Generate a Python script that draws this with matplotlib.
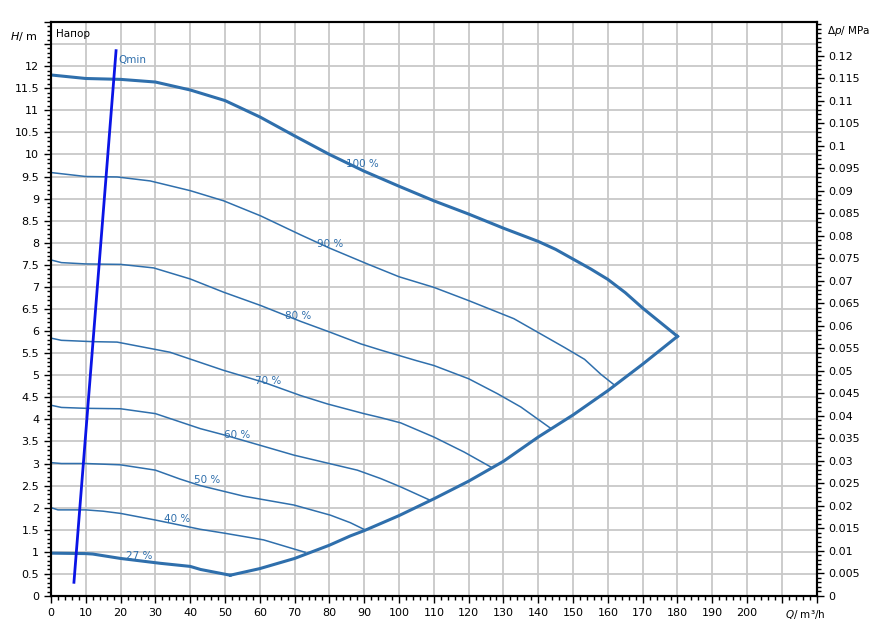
"""Pump curve chart: head vs flow at several speeds."""

import matplotlib
matplotlib.use("Agg")
import matplotlib.pyplot as plt
from matplotlib.ticker import MultipleLocator, FixedLocator, FuncFormatter

# speed curves (Q in m3/h, H in m)
q100 = [0, 10, 20, 30, 40, 50, 60, 70, 80, 90, 100, 110, 120, 130, 140, 145, 150, 155, 160, 165, 170, 175, 180]
h100 = [11.8, 11.72, 11.7, 11.64, 11.46, 11.22, 10.85, 10.42, 10.0, 9.62, 9.28, 8.95, 8.65, 8.33, 8.03, 7.85, 7.63, 7.41, 7.17, 6.87, 6.52, 6.2, 5.88]

q90 = [0, 10, 19, 28.5, 40, 49.6, 60.2, 71.7, 80, 90.9, 100, 110, 120, 133, 147.5, 153.3, 158, 162]
h90 = [9.59, 9.5, 9.49, 9.4, 9.18, 8.95, 8.61, 8.18, 7.88, 7.52, 7.23, 6.99, 6.69, 6.28, 5.63, 5.36, 5.02, 4.77]

q80 = [0, 3, 10, 20, 29.5, 40, 49.6, 60.2, 71.7, 80, 89, 94.7, 105, 110, 120, 128.3, 135, 143.7]
h80 = [7.61, 7.55, 7.52, 7.51, 7.43, 7.18, 6.88, 6.58, 6.22, 5.98, 5.71, 5.57, 5.33, 5.22, 4.92, 4.58, 4.28, 3.79]

q70 = [0, 3, 12, 19, 34.2, 49.6, 61.1, 71.7, 79.4, 89.9, 94.7, 100.5, 110, 118.7, 126.4]
h70 = [5.84, 5.79, 5.76, 5.75, 5.52, 5.11, 4.84, 4.54, 4.35, 4.13, 4.04, 3.92, 3.6, 3.26, 2.92]

q60 = [0, 3, 10, 20, 30, 42.9, 50.1, 60.2, 69.8, 79.4, 88, 94.7, 100.5, 108.6]
h60 = [4.32, 4.27, 4.25, 4.24, 4.13, 3.79, 3.64, 3.41, 3.19, 3.01, 2.85, 2.66, 2.47, 2.18]

q50 = [0, 3, 10, 20, 30, 37, 42.9, 55.4, 69.8, 80.3, 86, 89.9]
h50 = [3.02, 3.0, 3.0, 2.97, 2.85, 2.65, 2.5, 2.26, 2.06, 1.83, 1.66, 1.51]

q40 = [0, 2, 10, 15, 20, 30, 42.9, 50, 61.1, 70, 73]
h40 = [2.0, 1.95, 1.95, 1.92, 1.87, 1.72, 1.51, 1.42, 1.27, 1.06, 0.99]

q27 = [0, 10, 12, 20, 31.4, 40, 43, 51.5]
h27 = [0.97, 0.96, 0.95, 0.85, 0.74, 0.67, 0.6, 0.47]

# max-flow boundary
q_end = [51.5, 60, 70, 80, 86, 90, 100, 110, 120, 130, 140, 150, 160, 170, 180]
h_end = [0.47, 0.62, 0.85, 1.15, 1.36, 1.48, 1.82, 2.2, 2.6, 3.05, 3.6, 4.1, 4.65, 5.25, 5.88]

# minimum flow line
q_min = [6.6, 18.7]
h_min = [0.31, 12.35]

labels = ["100 %", "90 %", "80 %", "70 %", "60 %", "50 %", "40 %", "27 %"]
label_q = [89.5, 80.3, 71.1, 62.5, 53.5, 44.9, 36.3, 25.3]
label_h = [9.79, 7.97, 6.33, 4.88, 3.64, 2.62, 1.74, 0.90]

color = "#2f6fac"

fig = plt.figure(figsize=(8.88, 6.37), dpi=100)
ax = fig.add_axes([0.0574, 0.0644, 0.8623, 0.9011])

ax.set_xlim(0, 220)
ax.set_ylim(0, 13)

ax.xaxis.set_major_locator(MultipleLocator(10))
ax.xaxis.set_minor_locator(MultipleLocator(2))
ax.yaxis.set_major_locator(MultipleLocator(0.5))
ax.yaxis.set_minor_locator(MultipleLocator(0.1))
ax.xaxis.set_major_formatter(FuncFormatter(lambda v, p: f"{v:g}" if v <= 200 else ""))
ax.yaxis.set_major_formatter(FuncFormatter(lambda v, p: f"{v:g}" if v <= 12 else ""))
ax.grid(True, which="major", color="#c8c8c8", lw=1.3)
ax.set_axisbelow(True)

ax.tick_params(which="major", direction="out", length=5, width=1, labelsize=8)
ax.tick_params(which="minor", direction="out", length=3, width=1)
for s in ax.spines.values():
    s.set_linewidth(1.5)

thin = [(q90, h90), (q80, h80), (q70, h70), (q60, h60), (q50, h50), (q40, h40)]
ax.plot(q100, h100, color=color, lw=2.2)
for q, h in thin:
    ax.plot(q, h, color=color, lw=1.1)
ax.plot(q27, h27, color=color, lw=2.2)
ax.plot(q_end, h_end, color=color, lw=2.2)
ax.plot(q_min, h_min, color="#0a14e6", lw=2)

for t, x, y in zip(labels, label_q, label_h):
    ax.text(x, y, t, color=color, fontsize=7.5, ha="center", va="center")
ax.text(19.3, 12.15, "Qmin", color=color, fontsize=7.5, ha="left", va="center")
ax.text(1.5, 12.72, "Напор", fontsize=7.5, ha="left", va="center")

ax.text(-0.036, 0.975, "$H$/ m", transform=ax.transAxes, fontsize=8, ha="center", va="center")
ax.text(0.985, -0.033, "$Q$/ m³/h", transform=ax.transAxes, fontsize=7.5, ha="center", va="center")

# pressure axis (rho*g = 0.00981 MPa/m)
ax2 = ax.twinx()
ax2.set_ylim(0, 13 * 0.00981)
ax2.yaxis.set_major_locator(FixedLocator([i * 0.005 for i in range(25)]))
ax2.yaxis.set_minor_locator(MultipleLocator(0.001))
ax2.yaxis.set_major_formatter(FuncFormatter(lambda v, p: f"{round(v, 3):g}"))
ax2.tick_params(which="major", direction="out", length=5, width=1, labelsize=8)
ax2.tick_params(which="minor", direction="out", length=3, width=1)
for s in ax2.spines.values():
    s.set_linewidth(1.5)
ax2.text(1.042, 0.985, r"$\Delta p$/ MPa", transform=ax.transAxes, fontsize=7.5, ha="center", va="center")

fig.savefig("out.png", dpi=100)
